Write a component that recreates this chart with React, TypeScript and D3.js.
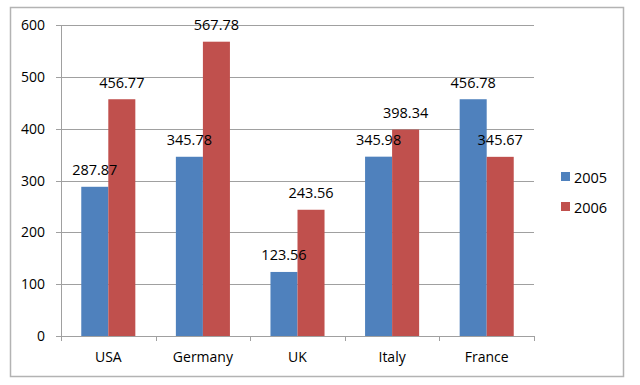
import React from "react";
import * as d3 from "d3";

const categories = ["USA", "Germany", "UK", "Italy", "France"];
const seriesNames = ["2005", "2006"];
const values2005 = [287.87, 345.78, 123.56, 345.98, 456.78];
const values2006 = [456.77, 567.78, 243.56, 398.34, 345.67];
const yTicks = [0, 100, 200, 300, 400, 500, 600];
const colors = ["#4f81bd", "#c0504d"];

const W = 640;
const H = 385;
const plot = { left: 61, right: 534, top: 25, bottom: 336 };
const FONT = "'Open Sans', 'Liberation Sans', sans-serif";

export default function App() {
  const series = [values2005, values2006];
  const y = d3.scaleLinear().domain([0, 600]).range([plot.bottom, plot.top]);
  const pi = 1.5 / 3.5;
  const x0 = d3
    .scaleBand<string>()
    .domain(categories)
    .range([plot.left, plot.right])
    .paddingInner(pi)
    .paddingOuter(pi / 2);
  const x1 = d3.scaleBand<string>().domain(seriesNames).range([0, x0.bandwidth()]);
  const step = x0.step();
  const boundaries = d3.range(categories.length + 1).map((i) => plot.left + i * step);

  return (
    <div style={{ position: "fixed", left: 0, top: 0 }}>
      <svg width={W} height={H} style={{ display: "block", background: "#fff" }} fontFamily={FONT}>
        <rect x={10.5} y={7.5} width={613} height={369} fill="#fff" stroke="#b3b3b3" strokeWidth={1.5} />
        {yTicks.map((t) => (
          <g key={t}>
            <line x1={plot.left - 5} x2={plot.right} y1={Math.round(y(t)) + 0.5} y2={Math.round(y(t)) + 0.5} stroke="#a0a0a0" strokeWidth={1} />
            <text x={45} y={y(t)} dy="0.36em" textAnchor="end" fontSize={14} fill="#000">
              {t}
            </text>
          </g>
        ))}
        {categories.map((c, i) =>
          seriesNames.map((s, j) => {
            const v = series[j][i];
            const bx = (x0(c) as number) + (x1(s) as number);
            return (
              <rect key={c + s} x={bx} y={y(v)} width={x1.bandwidth()} height={y(0) - y(v)} fill={colors[j]} />
            );
          })
        )}
        <line x1={plot.left + 0.5} x2={plot.left + 0.5} y1={plot.top} y2={plot.bottom} stroke="#a0a0a0" />
        <line x1={plot.left} x2={plot.right} y1={Math.round(y(0)) + 0.5} y2={Math.round(y(0)) + 0.5} stroke="#a0a0a0" />
        {boundaries.map((bx, i) => (
          <line key={i} x1={Math.round(bx) + 0.5} x2={Math.round(bx) + 0.5} y1={plot.bottom} y2={plot.bottom + 5} stroke="#a0a0a0" />
        ))}
        {categories.map((c, i) =>
          seriesNames.map((s, j) => {
            const v = series[j][i];
            const cx = (x0(c) as number) + (x1(s) as number) + x1.bandwidth() / 2;
            return (
              <text key={"l" + c + s} x={cx} y={y(v) - 11.5} textAnchor="middle" fontSize={14.5} fill="#000">
                {v.toFixed(2)}
              </text>
            );
          })
        )}
        {categories.map((c) => (
          <text key={"c" + c} x={(x0(c) as number) + x0.bandwidth() / 2} y={362} textAnchor="middle" fontSize={14} fill="#000">
            {c}
          </text>
        ))}
        {seriesNames.map((s, j) => (
          <g key={"lg" + s}>
            <rect x={561} y={172 + j * 30} width={9} height={9} fill={colors[j]} />
            <text x={574} y={182.5 + j * 30} fontSize={14.5} fill="#000">
              {s}
            </text>
          </g>
        ))}
      </svg>
    </div>
  );
}
